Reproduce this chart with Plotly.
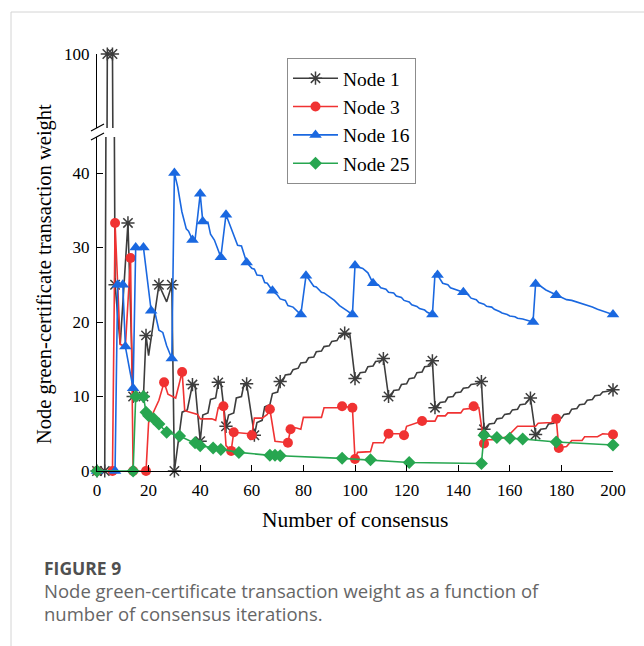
import plotly.graph_objects as go

# ---------------- data ----------------
X_TICKS = [0, 20, 40, 60, 80, 100, 120, 140, 160, 180, 200]
Y_TICKS_LOW = [0, 10, 20, 30, 40]
Y_TICKS_HIGH = [100]

node1_x = [0, 3, 4, 6, 7, 9, 12, 14, 18, 19, 20, 24, 27, 29, 30, 33, 35, 37, 38, 40, 41, 43, 44, 46, 47, 48,
           50, 51, 53, 54, 56, 57, 58, 61, 62, 64, 65, 67, 68, 70, 71, 72, 73, 75, 76, 78, 79, 81, 82, 84, 85,
           87, 88, 90, 91, 93, 94, 96, 98, 100, 101, 102, 104, 105, 107, 108, 110, 111, 113, 114, 115, 117,
           118, 120, 121, 123, 124, 126, 127, 129, 130, 131, 132, 133, 135, 136, 138, 139, 141, 142, 144, 145,
           147, 149, 150, 151, 152, 154, 155, 157, 158, 160, 161, 163, 164, 166, 168, 170, 171, 172, 174, 175,
           177, 178, 180, 181, 183, 184, 186, 187, 189, 190, 192, 193, 195, 196, 198, 200]
node1_y = [0, 0, 100, 100, 25, 17, 33.3, 10, 10, 18.2, 15.5, 25, 22.7, 25, 0, 7.9, 8.2, 11.6, 11.6, 4.0, 7.5,
           7.8, 9.6, 9.8, 11.9, 11.9, 6.0, 7.5, 7.8, 9.8, 10.0, 11.7, 11.7, 4.8, 6.5, 6.8, 8.6, 8.9, 10.4,
           10.6, 12.0, 12.1, 12.9, 13.0, 13.6, 13.8, 14.5, 14.6, 15.2, 15.3, 16.0, 16.1, 16.7, 16.8, 17.4,
           17.5, 18.1, 18.5, 18.3, 12.4, 12.5, 13.2, 13.3, 14.0, 14.1, 14.7, 14.8, 15.1, 10.0, 10.1, 10.8,
           10.9, 11.6, 11.7, 12.4, 12.5, 13.2, 13.3, 14.0, 14.1, 14.8, 8.5, 8.6, 9.2, 9.3, 9.9, 10.0, 10.5,
           10.6, 11.1, 11.2, 11.6, 11.7, 12.0, 5.6, 5.7, 6.3, 6.4, 7.0, 7.1, 7.6, 7.7, 8.2, 8.3, 8.9, 9.0,
           9.8, 4.9, 5.0, 5.6, 5.7, 6.3, 6.4, 7.0, 7.1, 7.6, 7.7, 8.3, 8.4, 8.9, 9.0, 9.5, 9.6, 10.1, 10.2,
           10.6, 10.7, 10.9]
node1_marks = [0, 3, 4, 6, 7, 12, 14, 18, 19, 24, 29, 30, 37, 40, 47, 50, 58, 61, 71, 96, 100, 111, 113,
               130, 131, 149, 150, 168, 170, 200]

node3_x = [0, 6, 7, 9, 11, 13, 14, 19, 20, 22, 24, 26, 27.5, 30.5, 33, 34, 39, 40, 44.5, 46, 47, 49, 50, 52,
           53, 59, 60, 61, 64, 66, 67, 69, 72, 74, 75, 77, 79, 80, 87, 88, 93, 95, 99, 100, 101, 106, 107,
           111, 113, 117, 119, 120, 126, 131, 132, 135, 136, 141, 142, 145, 146, 148, 150, 151, 154, 159,
           163, 170, 171, 176, 178, 179, 182, 184, 188, 189, 194, 196, 200]
node3_y = [0, 0, 33.3, 17, 16.7, 28.6, 0, 0, 6.5, 8.0, 9.5, 11.9, 10.3, 9.8, 13.3, 8.1, 7.6, 7.0, 7.0, 6.8,
           8.5, 8.7, 3.4, 2.7, 5.2, 5.0, 4.8, 7.1, 7.1, 7.6, 8.3, 4.0, 3.9, 3.8, 5.6, 5.8, 5.6, 7.2, 7.2,
           8.5, 8.5, 8.7, 8.5, 1.6, 2.5, 2.6, 3.8, 3.8, 5.0, 5.0, 4.8, 6.0, 6.7, 6.7, 7.4, 7.4, 7.8, 7.8,
           8.3, 8.4, 8.7, 8.5, 3.7, 4.2, 4.2, 4.6, 6.0, 6.0, 6.4, 6.5, 7.0, 3.1, 3.3, 4.1, 4.1, 4.6, 4.6,
           5.0, 4.9]
node3_marks = [0, 6, 7, 13, 14, 19, 26, 33, 49, 52, 53, 60, 67, 74, 75, 95, 99, 100, 113, 119, 126, 146,
               150, 178, 179, 200]

node16_x = [0, 7, 8, 10, 11, 14, 15, 18, 21, 22.5, 24, 25.5, 27, 28, 29, 30, 31.3, 32.9, 34.6, 35.5, 37, 38,
            40, 41, 43, 44, 45.5, 48, 50, 54.5, 56, 58, 60, 61, 62, 64, 65, 66, 68, 70, 71, 73, 74, 76, 79,
            81, 82, 84, 85, 87, 88, 90, 91, 92, 94, 95, 97, 99, 100, 101, 103, 104, 105, 107, 109, 110, 112,
            113, 115, 116, 118, 119, 121, 122, 124, 125, 127, 128, 130, 131, 132, 134, 136, 137, 139, 142,
            144, 145, 147, 148, 150, 151, 153, 154, 156, 157, 159, 160, 162, 163, 165, 166, 169, 170, 172,
            174, 176, 178, 180, 182, 184, 186, 188, 190, 192, 194, 196, 198, 200]
node16_y = [0, 0, 25, 25, 16.7, 11.1, 30, 30, 21.5, 21.2, 18.9, 18.6, 16.8, 16.0, 15.1, 40, 38.1, 34.8, 32.5,
            32.2, 31.0, 31.0, 37.2, 33.5, 33.4, 31.8, 31.0, 28.7, 34.4, 30.3, 30.2, 28.0, 27.2, 27.1, 26.3,
            26.2, 25.3, 25.2, 24.2, 23.6, 23.1, 22.9, 22.2, 22.0, 21.0, 26.2, 25.8, 24.8, 24.7, 24.0, 23.9,
            23.4, 23.2, 22.9, 22.2, 22.0, 21.5, 21.0, 27.6, 27.4, 27.2, 26.9, 26.6, 25.2, 25.0, 24.6, 24.4,
            24.0, 23.9, 23.5, 23.3, 22.9, 22.7, 22.3, 22.1, 21.8, 21.6, 21.3, 21.0, 26.4, 26.3, 25.2, 25.0,
            24.6, 24.4, 24.0, 23.6, 23.2, 23.0, 22.6, 22.4, 22.1, 22.0, 21.7, 21.4, 21.2, 21.0, 20.8, 20.7,
            20.5, 20.4, 20.3, 20.0, 25.1, 24.8, 24.3, 24.0, 23.6, 23.3, 23.0, 22.9, 22.7, 22.4, 22.2, 22.0,
            21.7, 21.5, 21.3, 21.0]
node16_marks = [0, 7, 8, 10, 11, 14, 15, 18, 21, 29, 30, 37, 40, 41, 48, 50, 58, 68, 79, 81, 99, 100, 107,
                130, 132, 142, 169, 170, 178, 200]

node25_x = [0, 14, 15, 18, 19, 20, 22, 24, 27, 32, 38, 40, 45, 48, 55, 67, 69, 71, 95, 106, 121, 149, 150,
            155, 160, 165, 178, 200]
node25_y = [0, 0, 10, 10, 7.9, 7.4, 7.0, 6.3, 5.2, 4.7, 3.8, 3.4, 3.1, 2.9, 2.5, 2.1, 2.1, 2.05, 1.7, 1.5,
            1.15, 1.0, 4.8, 4.5, 4.4, 4.3, 3.9, 3.5]
node25_marks = node25_x

series_names = ["Node 1", "Node 3", "Node 16", "Node 25"]

# ---------------- styles ----------------
styles = [
    dict(color="#3d3d3d", symbol="asterisk-open", size=11),
    dict(color="#f03232", symbol="circle", size=10),
    dict(color="#1a68e0", symbol="triangle-up", size=11),
    dict(color="#27a650", symbol="diamond", size=10),
]
data = [
    (node1_x, node1_y, node1_marks),
    (node3_x, node3_y, node3_marks),
    (node16_x, node16_y, node16_marks),
    (node25_x, node25_y, node25_marks),
]

BREAK = 90

fig = go.Figure()


def marker_dict(st):
    if st["symbol"] == "asterisk-open":
        return dict(symbol=st["symbol"], size=st["size"], color=st["color"],
                    line=dict(color=st["color"], width=1.5))
    return dict(symbol=st["symbol"], size=st["size"], color=st["color"], line=dict(width=0))


for name, (xs, ys, marks), st in zip(series_names, data, styles):
    lookup = dict(zip(xs, ys))
    mx = list(marks)
    my = [lookup[v] for v in mx]
    low = [(a, b) for a, b in zip(mx, my) if b < BREAK]
    high = [(a, b) for a, b in zip(mx, my) if b >= BREAK]
    line = dict(color=st["color"], width=1.6)
    fig.add_trace(go.Scatter(x=xs, y=ys, mode="lines", line=line, xaxis="x", yaxis="y",
                             showlegend=False, hoverinfo="skip"))
    if max(ys) >= BREAK:
        fig.add_trace(go.Scatter(x=xs, y=ys, mode="lines", line=line, xaxis="x", yaxis="y2",
                                 showlegend=False, hoverinfo="skip"))
    fig.add_trace(go.Scatter(x=[p[0] for p in low], y=[p[1] for p in low], mode="markers",
                             marker=marker_dict(st), xaxis="x", yaxis="y", cliponaxis=False,
                             showlegend=False, hoverinfo="skip"))
    if high:
        fig.add_trace(go.Scatter(x=[p[0] for p in high], y=[p[1] for p in high], mode="markers",
                                 marker=marker_dict(st), xaxis="x", yaxis="y2", cliponaxis=False,
                                 showlegend=False, hoverinfo="skip"))
    fig.add_trace(go.Scatter(x=[None], y=[None], mode="lines+markers", name=name, line=line,
                             marker=marker_dict(st), xaxis="x", yaxis="y"))

# ---------------- layout ----------------
L, R, T, B = 97, 31, 54, 175
W, H = 644, 646
PW, PH = W - L - R, H - T - B


def px2paper(px, py):
    return (px - L) / PW, (H - B - py) / PH


serif = "Liberation Serif"
tickfont = dict(family=serif, size=17, color="black")
axis_common = dict(showline=True, linecolor="black", linewidth=1.2, ticks="inside", ticklen=6,
                   tickwidth=1.1, tickcolor="black", showgrid=False, zeroline=False, tickfont=tickfont,
                   ticklabelstandoff=3)

y_low_top = 137
y_high_bottom = 128
dom_low = [0, (H - B - y_low_top) / PH]
dom_high = [(H - B - y_high_bottom) / PH, 1]

annotations = []
ax, ay = px2paper(44, 274)
annotations.append(dict(x=ax, y=ay, xref="paper", yref="paper", text="Node green-certificate transaction weight",
                        textangle=-90, showarrow=False, font=dict(family=serif, size=20.5, color="black"),
                        xanchor="center", yanchor="middle"))
ax, ay = px2paper(355, 520)
annotations.append(dict(x=ax, y=ay, xref="paper", yref="paper", text="Number of consensus", showarrow=False,
                        font=dict(family=serif, size=21.5, color="black"), xanchor="center", yanchor="middle"))

caption = ("<b>FIGURE 9</b><br>"
           "<span style='font-size:18.5px;color:#666666'>Node green-certificate transaction weight as a function of</span><br>"
           "<span style='font-size:18.5px;color:#666666'>number of consensus iterations.</span>")
ax, ay = px2paper(43, 591)
annotations.append(dict(x=ax, y=ay, xref="paper", yref="paper", text=caption, showarrow=False,
                        font=dict(family="Open Sans", size=17.5, color="#505050"),
                        xanchor="left", yanchor="middle", align="left", borderpad=0))

shapes = []
x0, y0 = px2paper(11, 12)
x1, y1 = px2paper(11, 646)
shapes.append(dict(type="line", xref="paper", yref="paper", x0=x0, y0=y0, x1=x1, y1=y1,
                   line=dict(color="#d4d4d4", width=1)))
x2, y2 = px2paper(644, 12)
shapes.append(dict(type="line", xref="paper", yref="paper", x0=x0, y0=y0, x1=x2, y1=y2,
                   line=dict(color="#d4d4d4", width=1)))
for cy in (127.5, 136.5):
    a0, b0 = px2paper(91, cy + 3.5)
    a1, b1 = px2paper(104, cy - 3.5)
    shapes.append(dict(type="line", xref="paper", yref="paper", x0=a0, y0=b0, x1=a1, y1=b1,
                       line=dict(color="black", width=1.2)))

lx, ly = px2paper(287, 58)

fig.update_layout(
    width=W, height=H,
    margin=dict(l=L, r=R, t=T, b=B),
    paper_bgcolor="white", plot_bgcolor="white",
    xaxis=dict(range=[0, 200], domain=[0, 1], anchor="y", tickvals=X_TICKS, **axis_common),
    yaxis=dict(range=[0, (H - B - y_low_top) / ((H - B - 173) / 40)], domain=dom_low, anchor="x",
               tickvals=Y_TICKS_LOW, **axis_common),
    yaxis2=dict(range=[90, 100], domain=dom_high, anchor="x", tickvals=Y_TICKS_HIGH, **axis_common),
    legend=dict(x=lx, y=ly, xanchor="left", yanchor="top", bordercolor="#8c8c8c", borderwidth=1,
                bgcolor="white", font=dict(family=serif, size=19.5, color="black"), tracegroupgap=0,
                itemwidth=45),
    annotations=annotations,
    shapes=shapes,
    showlegend=True,
)

fig.write_html("out.html", config={"displayModeBar": False},
               post_script="document.body.style.margin='0';document.body.style.padding='0';")
